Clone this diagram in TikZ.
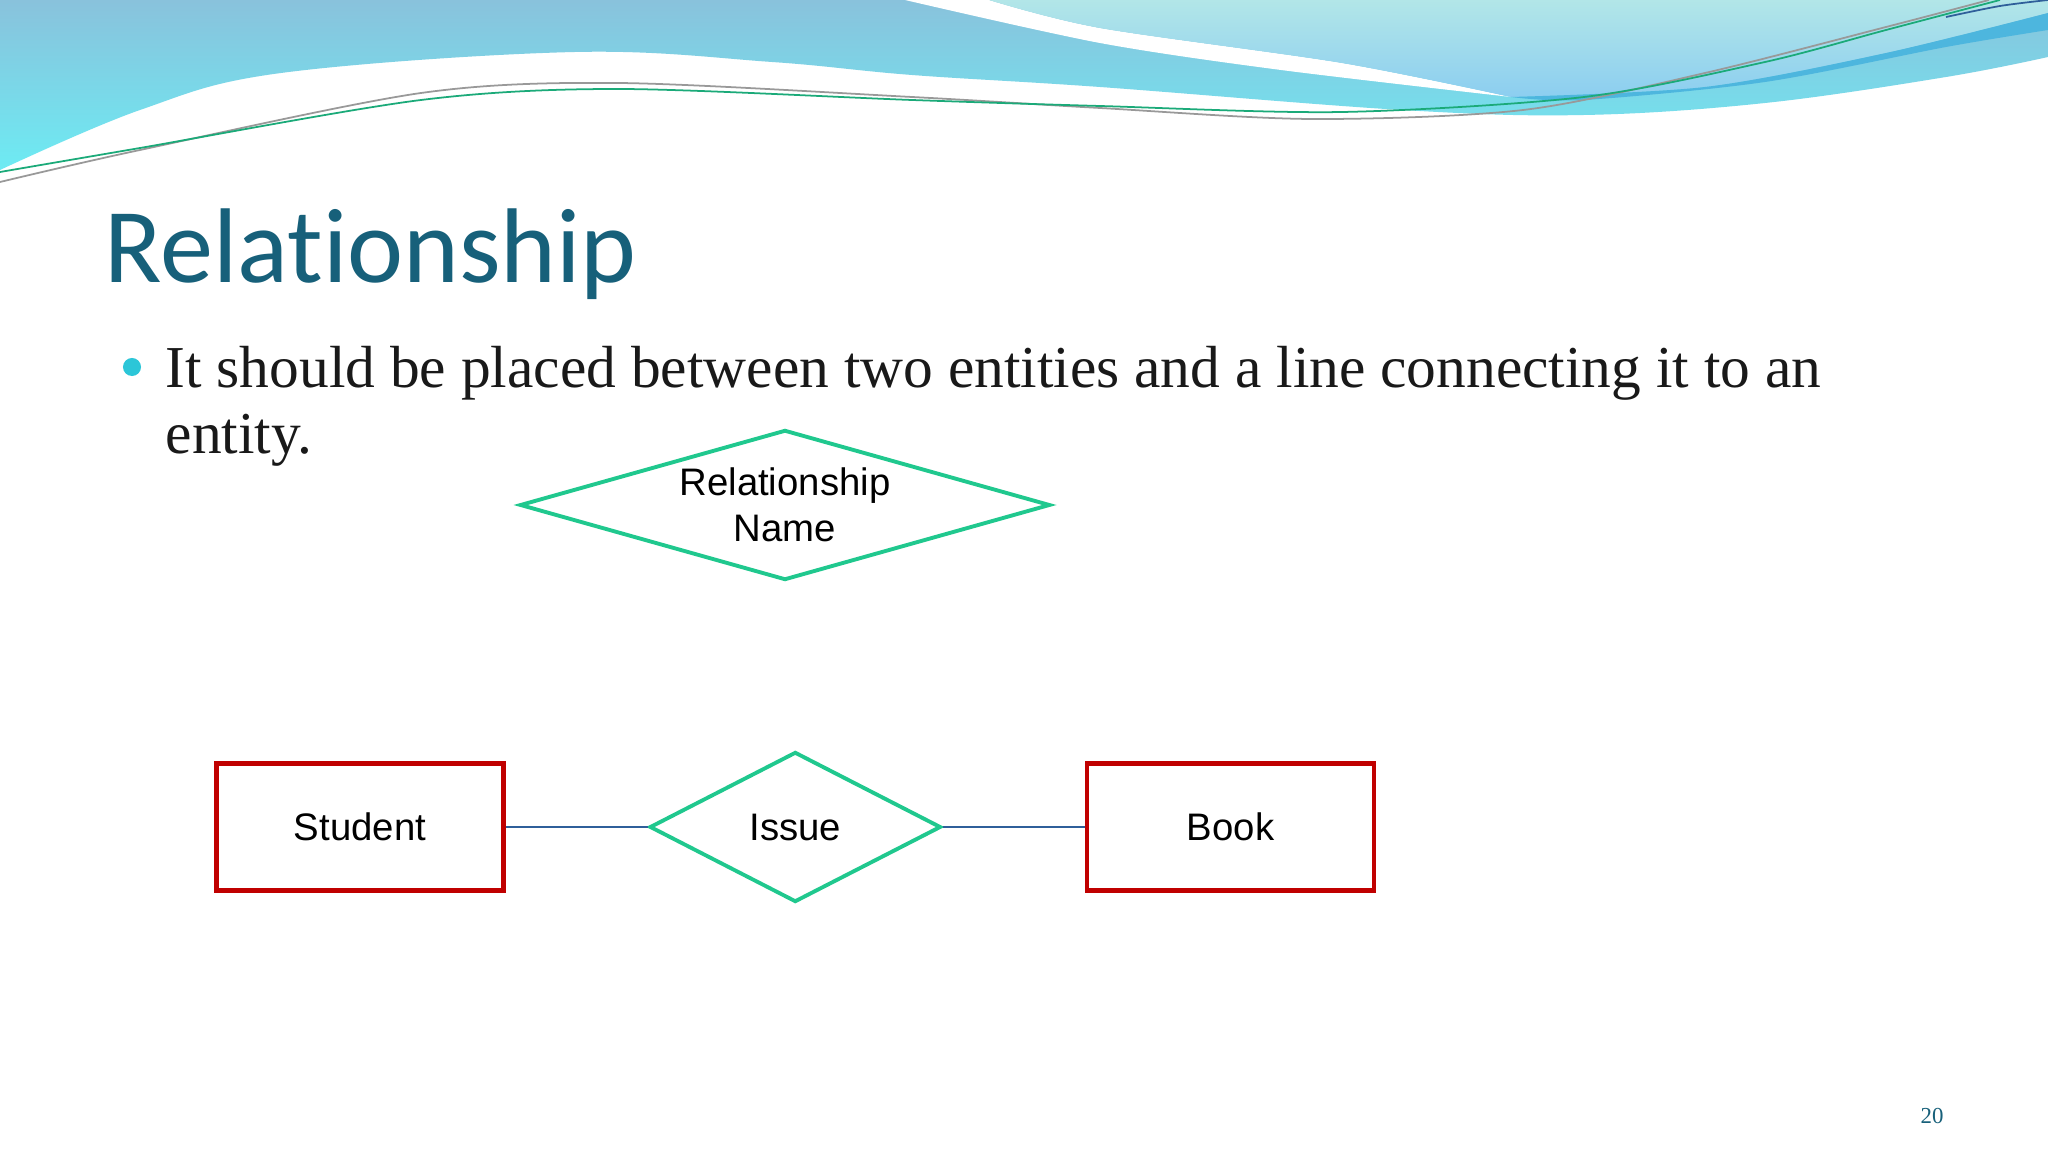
\documentclass[tikz,border=0pt]{standalone}
\usepackage{fontspec}
\setmainfont{Liberation Serif}
\newfontfamily\labelfont{Liberation Sans}
\newfontfamily\titlefont[Ligatures=NoCommon]{Carlito}
\usetikzlibrary{positioning, shapes.geometric}

\definecolor{titleblue}{HTML}{17607A}
\definecolor{bulletcyan}{HTML}{2CC6D8}
\definecolor{relgreen}{HTML}{20C88E}
\definecolor{entred}{HTML}{C00000}
\definecolor{linkblue}{HTML}{2F5F9A}
\definecolor{wavetop}{HTML}{89C2DC}
\definecolor{wavelow}{HTML}{6DEBF3}
\definecolor{aquatop}{HTML}{B2E6E8}
\definecolor{aqualow}{HTML}{8CCEF0}
\definecolor{bandblue}{HTML}{4DB6DE}

\begin{document}
\begin{tikzpicture}[x=0.01cm, y=-0.01cm, node distance=1.42cm,
    entity/.style={draw=entred, line width=1.2pt, fill=white, minimum width=2.87cm, minimum height=1.27cm, font=\labelfont\fontsize{10.9}{12.5}\selectfont},
    relation/.style={diamond, draw=relgreen, line width=1.1pt, fill=white, inner sep=0pt, align=center, font=\labelfont\fontsize{10.9}{13.2}\selectfont},
    link/.style={draw=linkblue, line width=0.45pt}]
    \useasboundingbox[fill=white] (0,0) rectangle (2048,1152);

    \shade[top color=wavetop, bottom color=wavelow] (0,0) -- (2048,0)
        -- plot[smooth, tension=0.6] coordinates {(2048,57) (1946,77) (1765,103) (1584,115) (1402,110) (1100,87) (912,75) (772,62) (575,52) (281,73) (140,110) (0,170)} -- cycle;
    \fill[white] (905,0) -- plot[smooth] coordinates {(989,0) (1100,28) (1342,63) (1511,97)}
        -- plot[smooth] coordinates {(1511,97) (1281,70) (1100,43) (905,0)} -- cycle;
    \shade[top color=aquatop, bottom color=aqualow] (989,0) -- (2048,0)
        -- plot[smooth] coordinates {(2048,13) (1886,53) (1705,87) (1511,97)}
        -- plot[smooth] coordinates {(1511,97) (1342,63) (1100,28) (989,0)} -- cycle;
    \fill[bandblue] plot[smooth] coordinates {(1511,97) (1705,87) (1886,53) (2048,13)}
        -- plot[smooth] coordinates {(2048,30) (1946,47) (1765,82) (1584,100) (1511,97)} -- cycle;
    \draw[gray!80, line width=0.5pt] plot[smooth] coordinates {(0,182) (140,150) (421,93) (618,83) (912,97) (1100,108) (1312,119) (1523,110) (1705,73) (1886,27) (1989,0)};
    \draw[relgreen!85!black, line width=0.5pt] plot[smooth] coordinates {(0,172) (140,148) (421,100) (618,89) (912,100) (1100,106) (1342,112) (1584,97) (1765,62) (1886,30) (2000,0)};
    \draw[linkblue, line width=0.5pt] plot[smooth] coordinates {(1946,17) (2000,6) (2048,0)};

    \node[anchor=base west, text=titleblue, font=\titlefont\fontsize{30.2}{36}\selectfont, inner sep=0pt] (title) at (104,283) {Relationship};
    \fill[bulletcyan] (132,367) circle (0.09cm);
    \node[anchor=base west, inner sep=0pt, text=black!90, font=\fontsize{16.9}{18.5}\selectfont] (bullet) at (165,388)
        {\begin{tabular}[t]{@{}l@{}}It should be placed between two entities and a line connecting it to an\\entity.\end{tabular}};

    \node[relation, aspect=3.5, minimum width=5.3cm, minimum height=1.5cm] (relname) at (785,505) {Relationship\\Name};

    \node[entity] (student) at (360,827) {Student};
    \node[relation, minimum width=2.91cm, minimum height=1.5cm, right=of student] (issue) {Issue};
    \node[entity, right=of issue] (book) {Book};

    \draw[link] (student) -- (issue);
    \draw[link] (issue) -- (book);

    \node[text=titleblue, font=\fontsize{6.5}{8}\selectfont] (page) at (1932,1116) {20};
\end{tikzpicture}
\end{document}
